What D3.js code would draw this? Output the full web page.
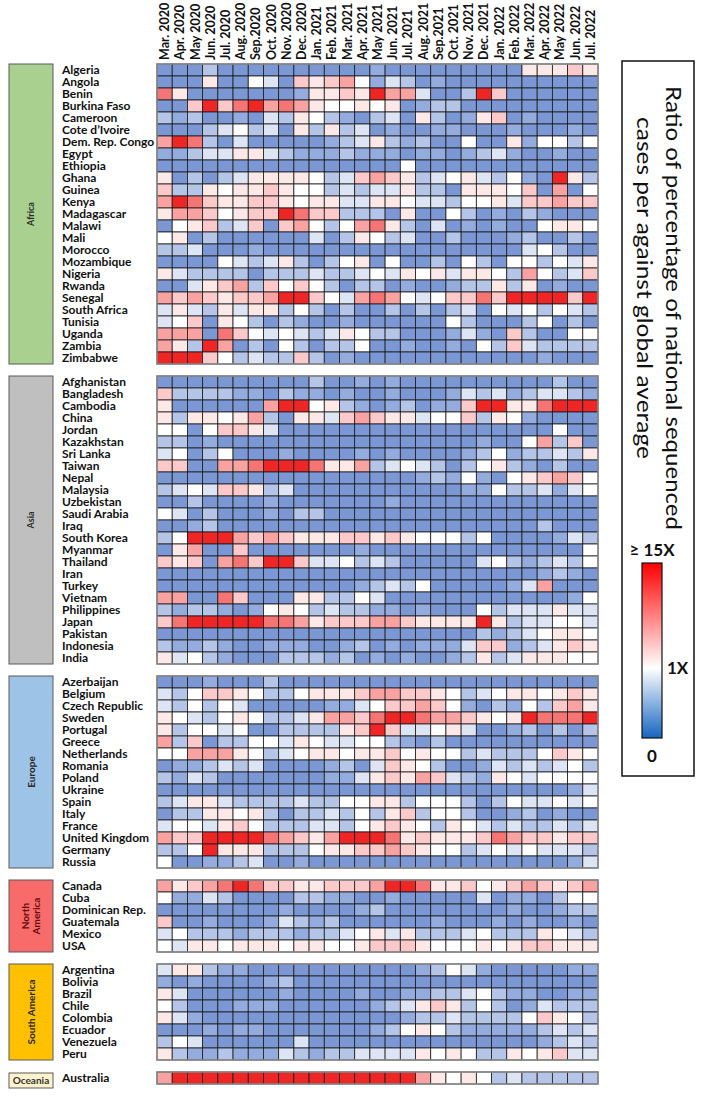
<!DOCTYPE html>
<html>
<head>
<meta charset="utf-8">
<script src="https://cdn.jsdelivr.net/npm/d3@7"></script>
<style>
  body { margin: 0; background: #fff; }
  svg text { font-family: Lato, "Liberation Sans", sans-serif; }
</style>
</head>
<body>
<svg id="chart"></svg>
<script>
// months on the x axis
const months = ["Mar. 2020", "Apr. 2020", "May 2020", "Jun. 2020", "Jul. 2020", "Aug. 2020",
  "Sep.2020", "Oct. 2020", "Nov. 2020", "Dec. 2020", "Jan. 2021", "Feb. 2021", "Mar. 2021",
  "Apr. 2021", "May 2021", "Jun. 2021", "Jul. 2021", "Aug. 2021", "Sep.2021", "Oct. 2021",
  "Nov. 2021", "Dec. 2021", "Jan. 2022", "Feb. 2022", "Mar. 2022", "Apr. 2022", "May 2022",
  "Jun. 2022", "Jul. 2022"];

// colour level read from each cell -> approx. ratio vs global average
const levelRatio = [0.02, 0.2, 0.45, 0.75, 1, 2.5, 4.5, 7, 10, 15];

const regionNames = ["Africa", "Asia", "Europe", "North America", "South America", "Oceania"];
const regionColors = ["#a9d08e", "#bfbfbf", "#9dc3e6", "#f86b6b", "#ffc000", "#fff2cc"];

const africaCountries = ["Algeria", "Angola", "Benin", "Burkina Faso", "Cameroon", "Cote d’Ivoire",
  "Dem. Rep. Congo", "Egypt", "Ethiopia", "Ghana", "Guinea", "Kenya", "Madagascar", "Malawi", "Mali",
  "Morocco", "Mozambique", "Nigeria", "Rwanda", "Senegal", "South Africa", "Tunisia", "Uganda",
  "Zambia", "Zimbabwe"];
const africaLevels = [
  "0002000000 0000100000 000055565",
  "0005004306 5674132010 000000000",
  "8500000001 5565977300 296000000",
  "0069689787 5445450122 000000000",
  "2120010325 4210230520 156010000",
  "0002342305 2523010011 000100010",
  "7982030000 0123521200 400514424",
  "1123355321 1121110110 123100100",
  "0000000000 0000004000 000000000",
  "5020235555 4236765234 532410952",
  "6225455654 4232335220 555460704",
  "7986556654 5533554332 445366766",
  "5776456698 6622205004 201021000",
  "0456236067 4247852030 101004554",
  "4502000000 3025423002 000120020",
  "2230001000 0000000000 000034200",
  "0000432352 0245040020 420442435",
  "5322220222 3223435453 554274236",
  "0035672646 4202201001 225250100",
  "7676566799 6437874346 686999969",
  "3532535524 2020020202 304342432",
  "3460542021 0010000004 200024020",
  "7770864343 2354220001 310620044",
  "7529702042 0224001001 042632222",
  "9996423226 2010000000 000001000"];

const asiaCountries = ["Afghanistan", "Bangladesh", "Cambodia", "China", "Jordan", "Kazakhstan",
  "Sri Lanka", "Taiwan", "Nepal", "Malaysia", "Uzbekistan", "Saudi Arabia", "Iraq", "South Korea",
  "Myanmar", "Thailand", "Iran", "Turkey", "Vietnam", "Philippines", "Japan", "Pakistan",
  "Indonesia", "India"];
const asiaLevels = [
  "0000000000 2001010000 000000200",
  "6222211021 1010010001 323123321",
  "5000000799 4521012011 699558999",
  "5255457205 5367655344 625410000",
  "4404665300 0000000000 000000400",
  "2201000000 0000000000 010047260",
  "3402400010 0001010000 124122325",
  "6600778999 8557234320 245210200",
  "0000000000 0000000121 410456764",
  "2343665230 0000000000 114223134",
  "0020000100 0000010000 000000000",
  "4302000102 2000000000 000000000",
  "0012000000 0000000000 000002000",
  "2499976765 5566565444 240000132",
  "0570060000 0001000000 000000004",
  "6560786996 3342320000 034212324",
  "0000000000 0000000000 000001210",
  "0000000000 0001232400 000137000",
  "7700860005 5224300000 000000014",
  "2122101454 2322110100 042333533",
  "6899999887 5666776555 595233443",
  "0000000000 0000000000 021234554",
  "2112100111 0012010111 366123565",
  "5342100022 2120101001 252355544"];

const europeCountries = ["Azerbaijan", "Belgium", "Czech Republic", "Sweden", "Portugal", "Greece",
  "Netherlands", "Romania", "Poland", "Ukraine", "Spain", "Italy", "France", "United Kingdom",
  "Germany", "Russia"];
const europeLevels = [
  "0001000200 0000000000 000000000",
  "3246654224 5556776654 234554565",
  "3242430000 0113466764 102142675",
  "5432454223 5776899877 654598889",
  "5244340022 2256963345 300120202",
  "7260224435 4334421020 000000000",
  "4477754234 5545564544 232224654",
  "0112323000 0120365420 013232342",
  "2132000000 0113565763 215434444",
  "0000000000 0000000000 000000013",
  "2355322223 2244552444 202433434",
  "0225545202 2324256244 200120100",
  "3443564222 3324565425 432322323",
  "7669999876 5799985655 568766566",
  "2249555222 4556676544 234343332",
  "4001123001 0000000000 000000013"];

const northAmericaCountries = ["Canada", "Cuba", "Dominican Rep.", "Guatemala", "Mexico", "USA"];
const northAmericaLevels = [
  "7567898665 5666799855 645676567",
  "4113200002 2110010000 030110244",
  "0000000010 0001200000 000100122",
  "6001000132 1200000010 001010010",
  "3422212221 2234535222 342225432",
  "4355455545 5445666544 454566555"];

const southAmericaCountries = ["Argentina", "Bolivia", "Brazil", "Chile", "Colombia", "Ecuador",
  "Venezuela", "Peru"];
const southAmericaLevels = [
  "3552110000 0000000124 310000011",
  "1010000120 0000000000 000000000",
  "5300000010 0001001122 342110011",
  "4200011100 0000123565 242013222",
  "5310000000 0000001223 222246542",
  "0001011000 0000124542 111112323",
  "2430000003 0000000000 000001232",
  "5211211132 1223333545 422545633"];

const oceaniaCountries = ["Australia"];
const oceaniaLevels = [
  "7999999999 9999999754 542322222"];

const blocks = [
  { region: regionNames[0], fill: regionColors[0], countries: africaCountries, levels: africaLevels },
  { region: regionNames[1], fill: regionColors[1], countries: asiaCountries, levels: asiaLevels },
  { region: regionNames[2], fill: regionColors[2], countries: europeCountries, levels: europeLevels },
  { region: regionNames[3], fill: regionColors[3], countries: northAmericaCountries, levels: northAmericaLevels },
  { region: regionNames[4], fill: regionColors[4], countries: southAmericaCountries, levels: southAmericaLevels },
  { region: regionNames[5], fill: regionColors[5], countries: oceaniaCountries, levels: oceaniaLevels },
];

const width = 703, height = 1099;
const rowH = 12, gap = 12, gridTop = 64;

const svg = d3.select("#chart").attr("width", width).attr("height", height);

// scales
const xScale = d3.scaleBand().domain(months).range([157, 598]);
const color = d3.scaleLinear().domain([0, 1, 15]).range(["#7896d4", "#ffffff", "#ef2626"]).clamp(true);

// column labels
svg.append("g")
  .selectAll("text")
  .data(months)
  .join("text")
  .attr("transform", (d) => `translate(${xScale(d) + xScale.bandwidth() / 2 + 4.5}, 60) rotate(-90)`)
  .attr("font-size", 12.5)
  .attr("font-weight", "bold")
  .attr("fill", "#111")
  .text((d) => d);

let y0 = gridTop;
blocks.forEach((b) => {
  const h = b.countries.length * rowH;
  const yScale = d3.scaleBand().domain(b.countries).range([y0, y0 + h]);
  const g = svg.append("g");

  const cells = [];
  b.countries.forEach((c, i) => {
    b.levels[i].replace(/\s/g, "").split("").forEach((code, j) => {
      cells.push({ country: c, month: months[j], value: levelRatio[+code] });
    });
  });

  g.selectAll("rect.cell")
    .data(cells)
    .join("rect")
    .attr("class", "cell")
    .attr("x", (d) => xScale(d.month))
    .attr("y", (d) => yScale(d.country))
    .attr("width", xScale.bandwidth())
    .attr("height", yScale.bandwidth())
    .attr("fill", (d) => color(d.value))
    .attr("stroke", "#1a1a1a")
    .attr("stroke-width", 0.8);

  // block frame
  g.append("rect")
    .attr("x", xScale.range()[0])
    .attr("y", y0)
    .attr("width", xScale.range()[1] - xScale.range()[0])
    .attr("height", h)
    .attr("fill", "none")
    .attr("stroke", "#8c8c8c")
    .attr("stroke-width", 1.6);

  // country names
  g.selectAll("text.country")
    .data(b.countries)
    .join("text")
    .attr("class", "country")
    .attr("x", 62)
    .attr("y", (d) => yScale(d) + yScale.bandwidth() / 2)
    .attr("dy", "0.36em")
    .attr("font-size", 12)
    .attr("font-weight", "bold")
    .attr("fill", "#111")
    .text((d) => d);

  // region box
  const isOceania = b.region === "Oceania";
  const boxY = isOceania ? y0 + 1 : y0;
  const boxH = isOceania ? 15 : h;
  g.append("rect")
    .attr("x", 9)
    .attr("y", boxY)
    .attr("width", 44)
    .attr("height", boxH)
    .attr("fill", b.fill)
    .attr("stroke", "#5a5a5a")
    .attr("stroke-width", 1);

  const cx = 31, cy = boxY + boxH / 2;
  if (isOceania) {
    g.append("text")
      .attr("x", cx).attr("y", cy).attr("dy", "0.35em")
      .attr("text-anchor", "middle")
      .attr("font-size", 10).attr("font-weight", "bold").attr("fill", "#333")
      .text(b.region);
  } else {
    const lines = b.region === "North America" ? ["North", "America"] : [b.region];
    const label = g.append("text")
      .attr("transform", `translate(${cx}, ${cy}) rotate(-90)`)
      .attr("text-anchor", "middle")
      .attr("font-size", b.region === "Africa" || b.region === "Asia" ? 9 : 10)
      .attr("font-weight", "bold")
      .attr("fill", b.region === "North America" ? "#6b0d0d" : "#2b2b2b");
    lines.forEach((t, i) => {
      label.append("tspan")
        .attr("x", 0)
        .attr("dy", i === 0 ? `${0.35 - (lines.length - 1) * 0.55}em` : "1.1em")
        .text(t);
    });
  }

  y0 += h + gap;
});

// legend
const legend = svg.append("g");
legend.append("rect")
  .attr("x", 622).attr("y", 61).attr("width", 72).attr("height", 715)
  .attr("fill", "#fff").attr("stroke", "#111").attr("stroke-width", 1.5);

const titleLines = [
  { text: "Ratio of percentage of national sequenced", x: 666, y: 86, len: 444 },
  { text: "cases per against global average", x: 637, y: 117, len: 342 },
];
titleLines.forEach((t) => {
  legend.append("text")
    .attr("transform", `translate(${t.x}, ${t.y}) rotate(90)`)
    .attr("font-family", "'Liberation Sans', Arial, sans-serif")
    .attr("font-size", 21)
    .attr("textLength", t.len)
    .attr("lengthAdjust", "spacingAndGlyphs")
    .attr("fill", "#111")
    .text(t.text);
});

const barTop = 563, barBottom = 738, barX = 642, barW = 20;
const legendY = d3.scaleLinear().domain([0, 1, 15]).range([barBottom, 668, barTop]);
const legendColor = d3.scaleLinear().domain([0, 1, 15]).range(["#1565c0", "#ffffff", "#ff0000"]);

const grad = svg.append("defs").append("linearGradient")
  .attr("id", "legend-grad")
  .attr("x1", 0).attr("y1", 1).attr("x2", 0).attr("y2", 0);
[0, 0.5, 1, 5, 10, 15].forEach((v) => {
  grad.append("stop")
    .attr("offset", (barBottom - legendY(v)) / (barBottom - barTop))
    .attr("stop-color", legendColor(v));
});

legend.append("rect")
  .attr("x", barX).attr("y", barTop).attr("width", barW).attr("height", barBottom - barTop)
  .attr("fill", "url(#legend-grad)").attr("stroke", "#111").attr("stroke-width", 1.2);

const legendTicks = [
  { v: 15, label: "≥ 15X", x: barX + barW / 2, anchor: "middle", dy: -7 },
  { v: 1, label: "1X", x: barX + barW + 5, anchor: "start", dy: 6 },
  { v: 0, label: "0", x: barX + barW / 2, anchor: "middle", dy: 24 },
];
legend.selectAll("text.tick")
  .data(legendTicks)
  .join("text")
  .attr("class", "tick")
  .attr("x", (d) => d.x)
  .attr("y", (d) => legendY(d.v) + d.dy)
  .attr("text-anchor", (d) => d.anchor)
  .attr("font-family", "'DejaVu Sans', sans-serif")
  .attr("font-size", 17)
  .attr("font-weight", "bold")
  .attr("fill", "#111")
  .text((d) => d.label);
</script>
</body>
</html>
